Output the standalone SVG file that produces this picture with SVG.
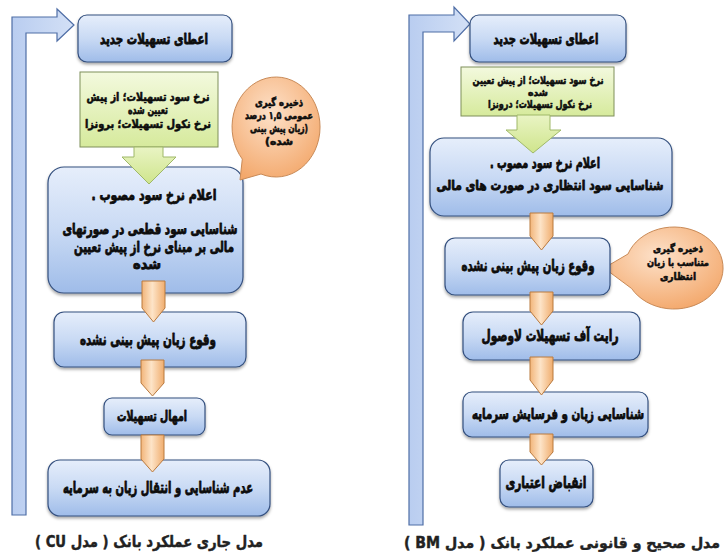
<svg xmlns="http://www.w3.org/2000/svg" width="725" height="553" viewBox="0 0 725 553">
<defs>
<linearGradient id="gBlue" x1="0" y1="0" x2="0" y2="1">
<stop offset="0" stop-color="#e6eefb"/>
<stop offset="0.5" stop-color="#c9daf4"/>
<stop offset="1" stop-color="#9fbce9"/>
</linearGradient>
<linearGradient id="gGreen" x1="0" y1="0" x2="0" y2="1">
<stop offset="0" stop-color="#f3f9de"/>
<stop offset="1" stop-color="#d6ea9c"/>
</linearGradient>
<linearGradient id="gGreenArrow" x1="0" y1="0" x2="0" y2="1">
<stop offset="0" stop-color="#e9f4c4"/>
<stop offset="1" stop-color="#cfe58c"/>
</linearGradient>
<linearGradient id="gOrange" x1="0" y1="0" x2="1" y2="0">
<stop offset="0" stop-color="#f2b57a"/>
<stop offset="0.45" stop-color="#fde4c8"/>
<stop offset="1" stop-color="#f0ad6e"/>
</linearGradient>
<radialGradient id="gBubble" cx="0.45" cy="0.35" r="0.7">
<stop offset="0" stop-color="#fde1c9"/>
<stop offset="1" stop-color="#f3a76a"/>
</radialGradient>
<linearGradient id="gFeed" x1="0" y1="0" x2="1" y2="0">
<stop offset="0" stop-color="#b9cdf0"/>
<stop offset="1" stop-color="#d3e0f6"/>
</linearGradient>
<filter id="sh" x="-10%" y="-10%" width="120%" height="130%">
<feDropShadow dx="0" dy="2" stdDeviation="1.5" flood-color="#000" flood-opacity="0.35"/>
</filter>
</defs>
<style>
.box{fill:url(#gBlue);stroke:#34507f;stroke-width:1.2;filter:url(#sh)}
.grn{fill:url(#gGreen);stroke:#7f8f5a;stroke-width:1}
.garr{fill:url(#gGreenArrow);stroke:#9fb869;stroke-width:1}
.oarr{fill:url(#gOrange);stroke:#b97a3f;stroke-width:1}
.bub{fill:url(#gBubble);stroke:#c98a57;stroke-width:1}
.feed{fill:url(#gFeed);stroke:#4f6ea6;stroke-width:1.2}
text{font-family:"DejaVu Sans","Noto Sans",sans-serif;font-weight:bold;fill:#0d0d0d;text-anchor:start;direction:rtl;stroke:#0d0d0d;stroke-width:0.85;stroke-linejoin:round}
.sm{stroke-width:0.6}
.cap{fill:#222;stroke:#222;stroke-width:0.45}
</style>

<g id="connectors">
<path class="feed" d="M12,515 L12,17 L57,17 L57,9 L74,25 L57,41 L57,33 L26,33 L26,515 Z"/>
<path class="feed" d="M409,525 L409,15 L454,15 L454,7 L470,24 L454,41 L454,32 L423,32 L423,525 Z"/>
</g>

<g id="cu-n1"><rect class="box" x="78" y="15" width="154" height="47" rx="9"/><text x="208" y="44" font-size="15" textLength="108" lengthAdjust="spacingAndGlyphs">اعطای تسهیلات جدید</text></g>
<g id="cu-n2"><rect class="grn" x="80" y="72" width="138" height="75"/>
<text class="sm" x="209.5" y="101" font-size="11.5" textLength="123" lengthAdjust="spacingAndGlyphs">نرخ سود تسهیلات؛ از پیش</text>
<text class="sm" x="168" y="114" font-size="11.5" textLength="40" lengthAdjust="spacingAndGlyphs">تعیین شده</text>
<text class="sm" x="211" y="128" font-size="11.5" textLength="126" lengthAdjust="spacingAndGlyphs">نرخ نکول تسهیلات؛ برونزا</text></g>
<g id="cu-n3"><rect class="box" x="48" y="167" width="195" height="126" rx="16"/>
<text x="216.5" y="200" font-size="15" textLength="125" lengthAdjust="spacingAndGlyphs">اعلام نرخ سود مصوب .</text>
<text x="237.5" y="234" font-size="15" textLength="175" lengthAdjust="spacingAndGlyphs">شناسایی سود قطعی در صورتهای</text>
<text x="234" y="252" font-size="15" textLength="160" lengthAdjust="spacingAndGlyphs">مالی بر مبنای نرخ از پیش تعیین</text>
<text x="161" y="269" font-size="14" textLength="28" lengthAdjust="spacingAndGlyphs">شده</text></g>
<g id="cu-bubble"><path class="bub" d="M261,174 L240,180 L242.3,159.1 A44,50 0 1,1 261,174 Z"/>
<text class="sm" x="303" y="106" font-size="10.5" textLength="48" lengthAdjust="spacingAndGlyphs">ذخیره گیری</text>
<text class="sm" x="313" y="119" font-size="10.5" textLength="68" lengthAdjust="spacingAndGlyphs">عمومی ۱,۵ درصد</text>
<text class="sm" x="308" y="132" font-size="10.5" textLength="58" lengthAdjust="spacingAndGlyphs">(زیان پیش بینی</text>
<text class="sm" x="293" y="145" font-size="10.5" textLength="28" lengthAdjust="spacingAndGlyphs">شده)</text></g>
<g id="cu-n4"><rect class="box" x="54" y="312" width="192" height="55" rx="10"/><text x="216" y="345" font-size="16" textLength="136" lengthAdjust="spacingAndGlyphs">وقوع زیان پیش بینی نشده</text></g>
<g id="cu-n5"><rect class="box" x="104" y="398" width="101" height="37" rx="8"/><text x="187" y="421" font-size="14" textLength="70" lengthAdjust="spacingAndGlyphs">امهال تسهیلات</text></g>
<g id="cu-n6"><rect class="box" x="48" y="460" width="222" height="56" rx="12"/><text x="253" y="493" font-size="16" textLength="190" lengthAdjust="spacingAndGlyphs">عدم شناسایی و انتقال زیان به سرمایه</text></g>

<g id="bm-n1"><rect class="box" x="470" y="15" width="156" height="47" rx="9"/><text x="598.5" y="44" font-size="15" textLength="105" lengthAdjust="spacingAndGlyphs">اعطای تسهیلات جدید</text></g>
<g id="bm-n2"><rect class="grn" x="461" y="67" width="153" height="49"/>
<text class="sm" x="603.5" y="84" font-size="11" textLength="131" lengthAdjust="spacingAndGlyphs">نرخ سود تسهیلات؛ از پیش تعیین</text>
<text class="sm" x="548" y="96" font-size="10" textLength="20" lengthAdjust="spacingAndGlyphs">شده</text>
<text class="sm" x="592" y="108" font-size="11" textLength="104" lengthAdjust="spacingAndGlyphs">نرخ نکول تسهیلات؛ درونزا</text></g>
<g id="bm-n3"><rect class="box" x="430" y="138" width="242" height="78" rx="14"/>
<text x="600" y="168" font-size="15" textLength="110" lengthAdjust="spacingAndGlyphs">اعلام نرخ سود مصوب .</text>
<text x="663.5" y="190" font-size="13.5" textLength="227" lengthAdjust="spacingAndGlyphs">شناسایی سود انتظاری در صورت های مالی</text></g>
<g id="bm-bubble"><path class="bub" d="M631.6,288.5 L604,268 L628,254 A49,41 0 1,1 631.6,288.5 Z"/>
<text class="sm" x="703" y="252" font-size="10" textLength="50" lengthAdjust="spacingAndGlyphs">ذخیره گیری</text>
<text class="sm" x="709" y="266" font-size="10" textLength="62" lengthAdjust="spacingAndGlyphs">متناسب با زیان</text>
<text class="sm" x="696" y="280" font-size="10" textLength="36" lengthAdjust="spacingAndGlyphs">انتظاری</text></g>
<g id="bm-n4"><rect class="box" x="445" y="238" width="165" height="57" rx="10"/><text x="594.5" y="271" font-size="16" textLength="133" lengthAdjust="spacingAndGlyphs">وقوع زیان پیش بینی نشده</text></g>
<g id="bm-n5"><rect class="box" x="463" y="312" width="177" height="48" rx="10"/><text x="618.5" y="341" font-size="16" textLength="137" lengthAdjust="spacingAndGlyphs">رایت آف تسهیلات لاوصول</text></g>
<g id="bm-n6"><rect class="box" x="463" y="392" width="185" height="45" rx="9"/><text x="644" y="419" font-size="15" textLength="172" lengthAdjust="spacingAndGlyphs">شناسایی زیان و فرسایش سرمایه</text></g>
<g id="bm-n7"><rect class="box" x="500" y="460" width="93" height="47" rx="9"/><text x="586.5" y="488" font-size="16" textLength="81" lengthAdjust="spacingAndGlyphs">انقباض اعتباری</text></g>

<g id="arrows">
<path class="garr" d="M134,147 L163,147 L163,157 L176,157 L149,184 L122,157 L134,157 Z"/>
<path class="garr" d="M517,115 L550,115 L550,130 L561,130 L533,153 L506,130 L517,130 Z"/>
<path class="oarr" d="M142,281 L165,281 L165,308 L153.5,322 L142,308 Z"/>
<path class="oarr" d="M141,360 L164,360 L164,383 L152.5,396 L141,383 Z"/>
<path class="oarr" d="M141,435 L164,435 L164,459 L152.5,472 L141,459 Z"/>
<path class="oarr" d="M530,213 L553,213 L553,236 L541.5,250 L530,236 Z"/>
<path class="oarr" d="M530,292 L553,292 L553,311 L541.5,325 L530,311 Z"/>
<path class="oarr" d="M530,357 L553,357 L553,380 L541.5,395 L530,380 Z"/>
<path class="oarr" d="M530,434 L553,434 L553,452 L541.5,465 L530,452 Z"/>
</g>

<text class="cap" x="263" y="547" font-size="16" textLength="228" lengthAdjust="spacingAndGlyphs">مدل جاری عملکرد بانک ( مدل CU )</text>
<text class="cap" x="720" y="548" font-size="15" textLength="316" lengthAdjust="spacingAndGlyphs">مدل صحیح و قانونی عملکرد بانک ( مدل BM )</text>
</svg>
